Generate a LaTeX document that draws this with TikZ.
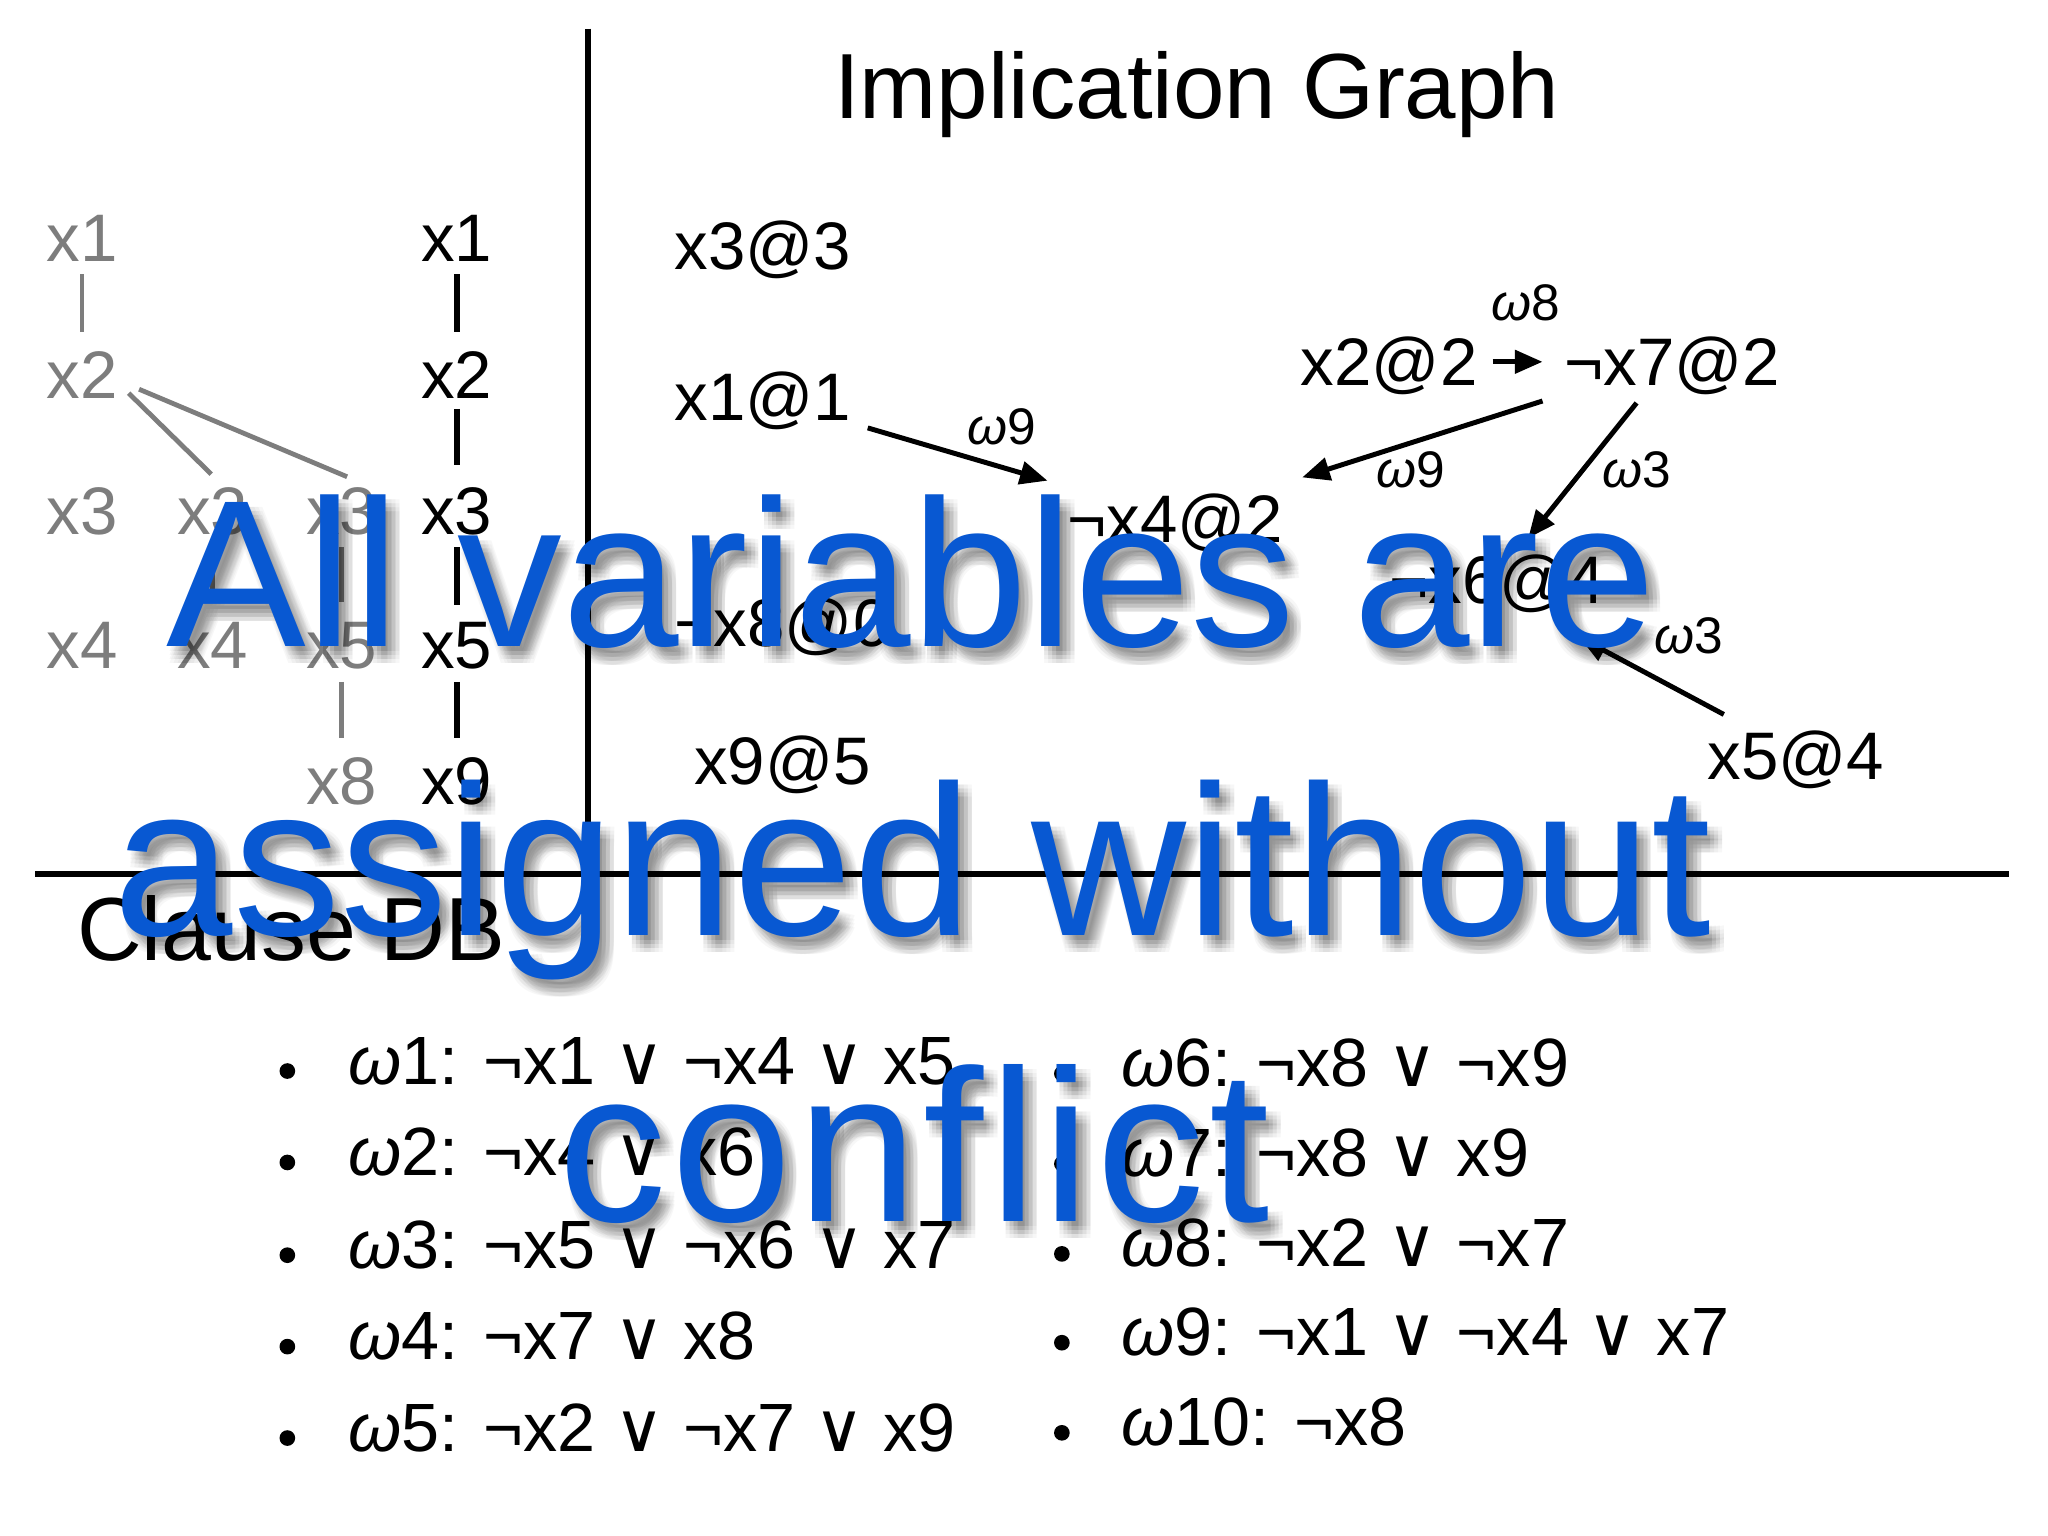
\documentclass[tikz,border=0pt]{standalone}
\usepackage{fontspec}
\setmainfont{Liberation Sans}
\newfontfamily\djv{DejaVu Sans}
\usetikzlibrary{arrows.meta,calc}
\definecolor{tgray}{RGB}{125,125,125}
\definecolor{ovblue}{RGB}{8,88,210}
\newcommand{\orsym}{{\djv ∨}}
\newcommand{\om}{{\itshape ω}}
\begin{document}
\begin{tikzpicture}[x=0.0125cm,y=-0.0125cm,
  lbl/.style={anchor=base west, inner sep=0, font=\fontsize{18.3}{20}\selectfont},
  glbl/.style={lbl, text=tgray},
  wlbl/.style={inner sep=0, font=\fontsize{14}{16}\selectfont},
  ttl/.style={anchor=base west, inner sep=0, font=\fontsize{24.4}{28}\selectfont},
  item/.style={anchor=base west, inner sep=0, font=\fontsize{18.6}{22}\selectfont},
  dotb/.style={circle, fill=black, inner sep=0, minimum size=0.15cm},
  gl/.style={draw=tgray, line width=1.3pt},
  bl/.style={draw=black, line width=1.6pt},
  rule/.style={draw=black, line width=1.6pt},
  arr/.style={draw=black, line width=1.35pt, -{Triangle[length=7.5pt,width=6.2pt]}},
  ovl/.style={anchor=base, inner sep=0, font=\fontsize{57}{60}\selectfont},
  ovlb/.style={anchor=base, inner sep=0, font=\fontsize{58.4}{60}\selectfont},
  ovlc/.style={anchor=base, inner sep=0, font=\fontsize{59}{60}\selectfont\addfontfeature{LetterSpace=2.5}}]
\useasboundingbox (0,0) rectangle (1568,1176);
\fill[white] (0,0) rectangle (1568,1176);

% separators
\coordinate (vtop) at (450,22);
\coordinate (vbot) at (450,652);
\coordinate (hl) at (27,669);
\coordinate (hr) at (1538,669);
\draw[rule] (vtop) -- (vbot);
\draw[rule] (hl) -- (hr);

% title
\node[ttl, font=\fontsize{25.2}{28}\selectfont] (title) at (638,91) {Implication Graph};

% gray tree
\node[glbl] (g1) at (35,200) {x1};
\node[glbl] (g2) at (35,305) {x2};
\node[glbl] (g3a) at (35,409) {x3};
\node[glbl] (g4a) at (35,512) {x4};
\node[glbl] (g3b) at (135,409) {x3};
\node[glbl] (g4b) at (135,512) {x4};
\node[glbl] (g3c) at (234,409) {x3};
\node[glbl] (g5c) at (234,512) {x5};
\node[glbl] (g8c) at (234,616) {x8};
\draw[gl] ($(g1.base)+(0,10)$) -- ($(g2.base)+(0,-51)$);
\draw[gl] ($(g3b.base)+(0,10)$) -- ($(g4b.base)+(0,-51)$);
\draw[gl] ($(g3c.base)+(0,10)$) -- ($(g5c.base)+(0,-51)$);
\draw[gl] ($(g5c.base)+(0,10)$) -- ($(g8c.base)+(0,-51)$);
\draw[gl] ($(g2.base east)+(8,-4)$) -- ($(g3b.base)+(-1,-46)$);
\draw[gl] ($(g2.base east)+(16,-7)$) -- ($(g3c.base)+(4,-44)$);

% black chain
\node[lbl] (b1) at (322,200) {x1};
\node[lbl] (b2) at (322,305) {x2};
\node[lbl] (b3) at (322,409) {x3};
\node[lbl] (b5) at (322,512) {x5};
\node[lbl] (b9) at (322,616) {x9};
\draw[bl] ($(b1.base)+(0,10)$) -- ($(b2.base)+(0,-51)$);
\draw[bl] ($(b2.base)+(0,8)$) -- ($(b3.base)+(0,-53)$);
\draw[bl] ($(b3.base)+(0,10)$) -- ($(b5.base)+(0,-49)$);
\draw[bl] ($(b5.base)+(0,10)$) -- ($(b9.base)+(0,-51)$);

% implication graph
\node[lbl] (n33) at (516,206) {x3@3};
\node[lbl] (n11) at (516,322) {x1@1};
\node[lbl] (n22) at (995.5,295.5) {x2@2};
\node[lbl] (n72) at (1197,295.5) {¬x7@2};
\node[lbl] (n42) at (816.6,415.5) {¬x4@2};
\node[lbl] (n80) at (516,495) {¬x8@0};
\node[lbl] (n64) at (1063,462) {¬x6@4};
\node[lbl] (n95) at (531,601) {x9@5};
\node[lbl] (n54) at (1306.8,597) {x5@4};

\draw[arr] ($(n11.base east)+(12,5.6)$) -- ($(n42.base west)+(-14.6,-47.5)$);
\draw[arr] ($(n22.base east)+(11,-18.5)$) -- ($(n72.base west)+(-16,-18.5)$);
\draw[arr] ($(n72.base west)+(-16,11.5)$) -- ($(n42.base east)+(14,-50)$);
\draw[arr] ($(n72.base west)+(56,13)$) -- ($(n64.base west)+(107,-50)$);
\draw[arr] ($(n54.base west)+(13,-50)$) -- ($(n64.base east)+(-20,26)$);

\node[wlbl] (w91) at (767,326.5) {\om9};
\node[wlbl] (w8) at (1168,232) {\om8};
\node[wlbl] (w92) at (1080,360) {\om9};
\node[wlbl] (w31) at (1253,360) {\om3};
\node[wlbl] (w32) at (1293,487) {\om3};

% clause DB
\node[ttl] (cdb) at (58.5,735) {Clause DB};
\node[dotb] (d1) at (220,820) {};
\node[dotb] (d2) at (220,890) {};
\node[dotb] (d3) at (220,961) {};
\node[dotb] (d4) at (220,1031) {};
\node[dotb] (d5) at (220,1101) {};
\node[item] (c1) at (266,830) {\om1: ¬x1 \orsym{} ¬x4 \orsym{} x5};
\node[item] (c2) at (266,900) {\om2: ¬x4 \orsym{} x6};
\node[item] (c3) at (266,971) {\om3: ¬x5 \orsym{} ¬x6 \orsym{} x7};
\node[item] (c4) at (266,1041) {\om4: ¬x7 \orsym{} x8};
\node[item] (c5) at (266,1111) {\om5: ¬x2 \orsym{} ¬x7 \orsym{} x9};
\node[dotb] (d6) at (813,822) {};
\node[dotb] (d7) at (813,891) {};
\node[dotb] (d8) at (813,960) {};
\node[dotb] (d9) at (813,1028) {};
\node[dotb] (d10) at (813,1097) {};
\node[item] (c6) at (858,832) {\om6: ¬x8 \orsym{} ¬x9};
\node[item] (c7) at (858,901) {\om7: ¬x8 \orsym{} x9};
\node[item] (c8) at (858,970) {\om8: ¬x2 \orsym{} ¬x7};
\node[item] (c9) at (858,1038) {\om9: ¬x1 \orsym{} ¬x4 \orsym{} x7};
\node[item] (c10) at (858,1107) {\om10: ¬x8};

% overlay with soft shadow
\foreach \dx in {2,5,8,11} {
  \foreach \dy in {4,7,10,13} {
    \node[ovl, text=black, text opacity=0.03] (s1-\dx-\dy) at (698+\dx,495+\dy) {All variables are};
    \node[ovlb, text=black, text opacity=0.03] (s2-\dx-\dy) at (699+\dx,716+\dy) {assigned without};
    \node[ovlc, text=black, text opacity=0.03] (s3-\dx-\dy) at (700+\dx,935+\dy) {conflict};
  }
}
\node[ovl, text=ovblue] (ov1) at (698,495) {All variables are};
\node[ovlb, text=ovblue] (ov2) at (699,716) {assigned without};
\node[ovlc, text=ovblue] (ov3) at (700,935) {conflict};
\end{tikzpicture}
\end{document}
